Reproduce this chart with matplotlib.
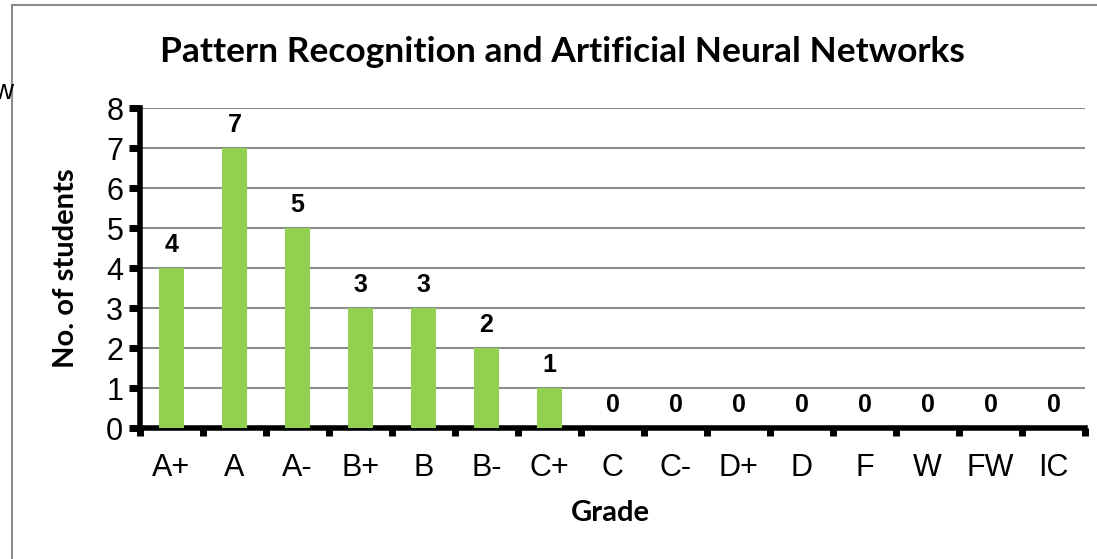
import numpy as np
import matplotlib.pyplot as plt
from matplotlib.patches import Rectangle

# Дані
grades = ["A+", "A", "A-", "B+", "B", "B-", "C+", "C", "C-", "D+", "D", "F", "W", "FW", "IC"]
students = [4, 7, 5, 3, 3, 2, 1, 0, 0, 0, 0, 0, 0, 0, 0]
y_ticks = [0, 1, 2, 3, 4, 5, 6, 7, 8]

fig = plt.figure(figsize=(10.97, 5.59), dpi=100)
ax = fig.add_axes([140 / 1097, 1 - 428 / 559, 945 / 1097, 320 / 559])

# Рамка області діаграми
fig.patches.append(Rectangle((12 / 1097, -0.1), 1.2, (559 - 5) / 559 + 0.1,
                             transform=fig.transFigure, fill=False,
                             edgecolor='#8c8c8c', linewidth=1.5))
fig.text(-0.006, 1 - 92 / 559, "w", fontsize=20, family='Liberation Sans', va='center')

x = np.arange(len(grades))
bars = ax.bar(x, students, width=0.4, color='#92D050', zorder=3)

for xi, v in zip(x, students):
    ax.annotate(str(v), (xi, v), xytext=(0, 8), textcoords='offset points',
                ha='center', va='bottom', fontsize=18, fontweight='bold',
                family='Liberation Sans')

ax.set_xlim(-0.5, len(grades) - 0.5)
ax.set_ylim(0, 8)
ax.set_yticks(y_ticks)
ax.set_yticklabels([str(t) for t in y_ticks], fontsize=22, family='Liberation Sans')
ax.yaxis.grid(True, color='#8c8c8c', linewidth=1.5, zorder=0)
ax.set_axisbelow(True)

# Мітки між категоріями
ax.set_xticks(np.arange(len(grades) + 1) - 0.5)
ax.set_xticklabels([])
ax.set_xticks(x, minor=True)
ax.set_xticklabels(grades, minor=True, fontsize=22, family='Liberation Sans')
ax.tick_params(axis='x', which='minor', length=0, pad=18)
ax.tick_params(axis='x', which='major', length=6, width=5, direction='out')
ax.tick_params(axis='y', length=8, width=5, direction='out', pad=4)

for s in ['top', 'right']:
    ax.spines[s].set_visible(False)
for s in ['left', 'bottom']:
    ax.spines[s].set_linewidth(4)
    ax.spines[s].set_color('black')

fig.text(562 / 1097, 1 - 52 / 559, "Pattern Recognition and Artificial Neural Networks",
         ha='center', va='center', fontsize=25.5, fontweight='bold', family='Lato')
fig.text(610 / 1097, 1 - 513 / 559, "Grade", ha='center', va='center',
         fontsize=21, fontweight='bold', family='Lato')
fig.text(66 / 1097, 1 - 268 / 559, "No. of students", ha='center', va='center',
         rotation=90, fontsize=21, fontweight='bold', family='Lato')

fig.savefig("out.png", dpi=100)
